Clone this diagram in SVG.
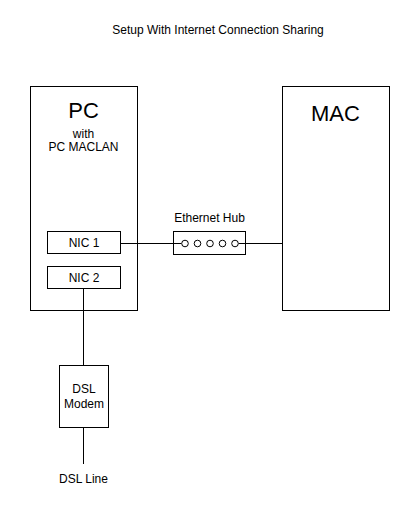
<svg xmlns="http://www.w3.org/2000/svg" width="418" height="519" viewBox="0 0 418 519">
<style>
text{font-family:"Liberation Sans",Arial,sans-serif;fill:#000;text-anchor:middle}
.s{font-size:12px}
.b{font-size:22px}
.box{fill:#fff;stroke:#000;stroke-width:1}
.ln{stroke:#000;stroke-width:1;fill:none}
.port{fill:#fff;stroke:#000;stroke-width:1}
</style>
<rect width="418" height="519" fill="#fff"/>
<text class="s" x="218" y="34">Setup With Internet Connection Sharing</text>
<g id="pc">
<rect class="box" x="30.5" y="86.5" width="107" height="224"/>
<text class="b" x="83.5" y="118">PC</text>
<text class="s" x="83.5" y="138">with</text>
<text class="s" x="83.5" y="151">PC MACLAN</text>
</g>
<g id="nic1">
<rect class="box" x="47.5" y="231.5" width="73" height="22"/>
<text class="s" x="84" y="247">NIC 1</text>
</g>
<g id="nic2">
<rect class="box" x="47.5" y="266.5" width="73" height="22"/>
<text class="s" x="84" y="282">NIC 2</text>
</g>
<g id="mac">
<rect class="box" x="282.5" y="86.5" width="107" height="224"/>
<text class="b" x="335.5" y="121">MAC</text>
</g>
<g id="connectors">
<line class="ln" x1="120.5" y1="243.5" x2="181.5" y2="243.5"/>
<line class="ln" x1="238.5" y1="243.5" x2="282.5" y2="243.5"/>
<line class="ln" x1="83.5" y1="288.5" x2="83.5" y2="365.5"/>
<line class="ln" x1="83.5" y1="427.5" x2="83.5" y2="464"/>
</g>
<g id="hub">
<text class="s" x="209.5" y="222">Ethernet Hub</text>
<rect class="box" x="173.5" y="231.5" width="72" height="23"/>
<line class="ln" x1="173.5" y1="243.5" x2="181.5" y2="243.5"/>
<line class="ln" x1="238.5" y1="243.5" x2="245.5" y2="243.5"/>
<circle class="port" cx="185" cy="243.5" r="3.3"/>
<circle class="port" cx="197.5" cy="243.5" r="3.3"/>
<circle class="port" cx="210" cy="243.5" r="3.3"/>
<circle class="port" cx="222.5" cy="243.5" r="3.3"/>
<circle class="port" cx="235" cy="243.5" r="3.3"/>
</g>
<g id="modem">
<rect class="box" x="59.5" y="365.5" width="49" height="62"/>
<text class="s" x="84" y="393">DSL</text>
<text class="s" x="84" y="408">Modem</text>
</g>
<g id="dslline">
<text class="s" x="83.5" y="483">DSL Line</text>
</g>
</svg>
